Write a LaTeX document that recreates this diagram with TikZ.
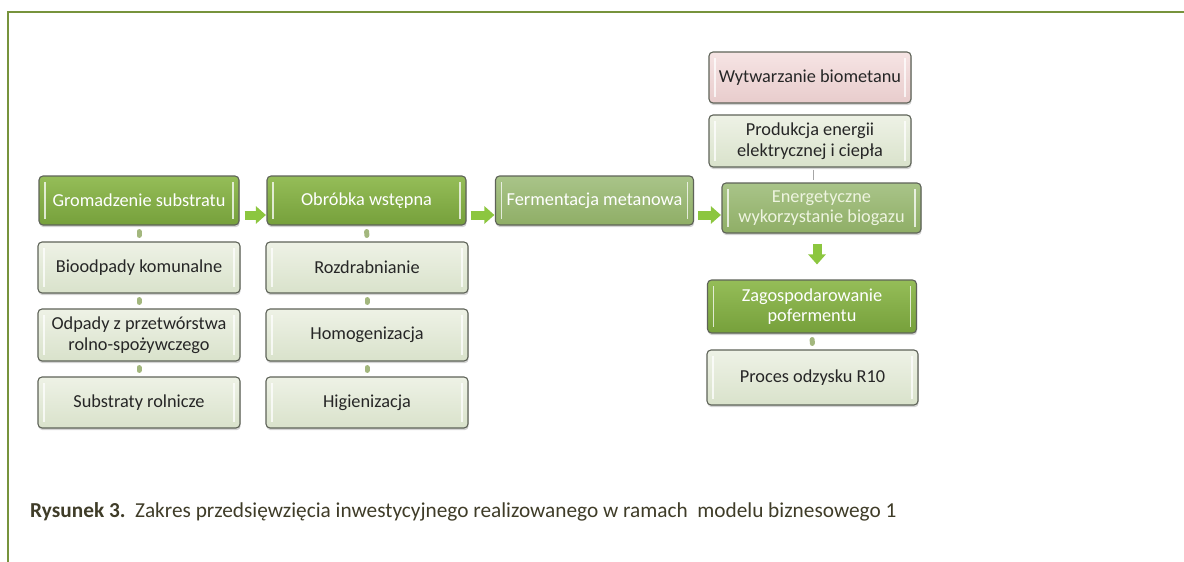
\documentclass[tikz,border=0pt]{standalone}
\usepackage{fontspec}
\setmainfont{Carlito}
\usetikzlibrary{shadows,arrows.meta,calc}
\definecolor{frameg}{HTML}{77933C}
\definecolor{gtop}{HTML}{95BD58}
\definecolor{gbot}{HTML}{76A03B}
\definecolor{mtop}{HTML}{A9C489}
\definecolor{mbot}{HTML}{8FAE66}
\definecolor{ltop}{HTML}{EEF2E6}
\definecolor{lbot}{HTML}{D9E2CB}
\definecolor{ptop}{HTML}{F6E4E4}
\definecolor{pbot}{HTML}{E8CCCC}
\definecolor{edge}{HTML}{5E6358}
\definecolor{arr}{HTML}{8CC63F}
\definecolor{connc}{HTML}{A3B77E}
\definecolor{captc}{HTML}{3F3C28}
\definecolor{txt}{HTML}{262626}
\definecolor{paletxt}{HTML}{EEF4E0}
\tikzset{
  box/.style={rounded corners=4pt, draw=edge, line width=1.1pt, align=center,
    font=\fontsize{18.3}{20.5}\selectfont, inner sep=2pt,
    drop shadow={opacity=0.35, shadow xshift=0.6pt, shadow yshift=-2.2pt},
    path picture={
      \draw[white, opacity=0.75, line width=1.4pt]
        ([xshift=6pt,yshift=-6pt]path picture bounding box.north west) --
        ([xshift=6pt,yshift=6pt]path picture bounding box.south west);
      \draw[white, opacity=0.75, line width=1.4pt]
        ([xshift=-6pt,yshift=-6pt]path picture bounding box.north east) --
        ([xshift=-6pt,yshift=6pt]path picture bounding box.south east);
    }},
  gbox/.style={box, top color=gtop, bottom color=gbot, text=white},
  mbox/.style={box, top color=mtop, bottom color=mbot, text=white},
  lbox/.style={box, top color=ltop, bottom color=lbot, text=txt},
  pbox/.style={box, top color=ptop, bottom color=pbot, text=txt},
  conn/.style={draw=connc, line width=5pt, line cap=round, shorten <=6pt, shorten >=6pt},
  thinconn/.style={draw=gray!70, line width=1pt, shorten <=2pt, shorten >=2pt},
  bigarrow/.style={draw=arr, line width=9pt, -{Triangle[length=10pt,width=17pt]}},
}
\begin{document}
\begin{tikzpicture}[x=1pt,y=-1pt]
\useasboundingbox (0,0) rectangle (1184,562);
% frame
\draw[frameg, line width=2pt] (1184,11.5) -- (8,11.5) -- (8,562);

% main row
\node[gbox, minimum width=200pt, minimum height=49pt] (g1) at (139,200.5) {Gromadzenie substratu};
\node[gbox, minimum width=199pt, minimum height=49pt] (o1) at (366.5,200.5) {Obróbka wstępna};
\node[mbox, minimum width=198pt, minimum height=49pt] (f1) at (594.5,200.5) {Fermentacja metanowa};
\node[mbox, minimum width=199pt, minimum height=50pt, text=paletxt] (e1) at (821.5,208) {Energetyczne\\wykorzystanie biogazu};

% left column
\node[lbox, minimum width=202pt, minimum height=51pt] (b1) at (139,267.5) {Bioodpady komunalne};
\node[lbox, minimum width=202pt, minimum height=52pt] (b2) at (139,335) {Odpady z przetwórstwa\\rolno-spożywczego};
\node[lbox, minimum width=202pt, minimum height=51pt] (b3) at (139,402.5) {Substraty rolnicze};

% middle column
\node[lbox, minimum width=202pt, minimum height=51pt] (r1) at (367,267.5) {Rozdrabnianie};
\node[lbox, minimum width=202pt, minimum height=52pt] (r2) at (367,335) {Homogenizacja};
\node[lbox, minimum width=202pt, minimum height=51pt] (r3) at (367,402.5) {Higienizacja};

% right column
\node[pbox, minimum width=202pt, minimum height=51pt] (w1) at (810,77.5) {Wytwarzanie biometanu};
\node[lbox, minimum width=202pt, minimum height=52pt] (p1) at (810,141) {Produkcja energii\\elektrycznej i ciepła};
\node[gbox, minimum width=209pt, minimum height=53pt] (z1) at (812,306.5) {Zagospodarowanie\\pofermentu};
\node[lbox, minimum width=211pt, minimum height=55pt] (pr) at (812.5,377.5) {Proces odzysku R10};

% small connectors
\draw[conn] (g1.south) -- (b1.north);
\draw[conn] (b1.south) -- (b2.north);
\draw[conn] (b2.south) -- (b3.north);
\draw[conn] (o1.south) -- (r1.north);
\draw[conn] (r1.south) -- (r2.north);
\draw[conn] (r2.south) -- (r3.north);
\draw[conn] (z1.south) -- (pr.north);
\draw[thinconn] ([xshift=3pt]p1.south) -- ([xshift=3pt]p1.south |- e1.north);

% big arrows
\draw[bigarrow, shorten <=5pt, shorten >=0.5pt] ([yshift=-14.5pt]g1.east) -- ([yshift=-14.5pt]g1.east -| o1.west);
\draw[bigarrow, shorten <=4pt, shorten >=0.5pt] ([yshift=-14.5pt]o1.east) -- ([yshift=-14.5pt]o1.east -| f1.west);
\draw[bigarrow, shorten <=4pt, shorten >=0.5pt] ([yshift=-14.5pt]f1.east) -- ([yshift=-14.5pt]f1.east -| e1.west);
\draw[bigarrow, shorten <=10pt, shorten >=15pt] ([xshift=-4.5pt]e1.south) -- ([xshift=-4.5pt]e1.south |- z1.north);

% caption
\node[anchor=base west, text=captc, font=\fontsize{21.3}{25}\selectfont, inner sep=0pt] (cap) at (30,517)
  {\textbf{Rysunek 3.}\ \ Zakres przedsięwzięcia inwestycyjnego realizowanego w ramach\ \ modelu biznesowego 1};
\end{tikzpicture}
\end{document}
